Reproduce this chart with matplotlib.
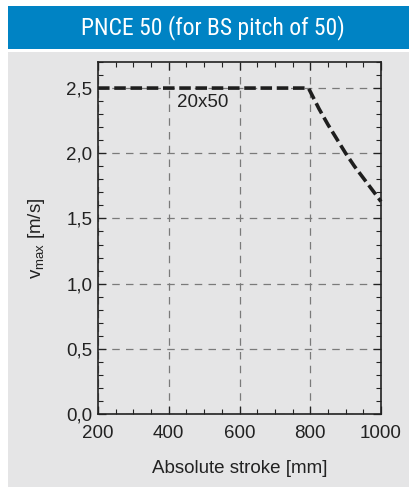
import matplotlib
matplotlib.use("Agg")
import matplotlib.pyplot as plt
from matplotlib.patches import Rectangle
from matplotlib.ticker import MultipleLocator, FuncFormatter

stroke = [200, 795, 825, 850, 875, 900, 925, 950, 975, 1000]
vmax = [2.5, 2.5, 2.34, 2.22, 2.11, 2.00, 1.90, 1.81, 1.72, 1.63]
x_ticks = [200, 400, 600, 800, 1000]
y_ticks = [0.0, 0.5, 1.0, 1.5, 2.0, 2.5]
title = "PNCE 50 (for BS pitch of 50)"
curve_label = "20x50"

plt.rcParams['font.family'] = ['Liberation Sans', 'DejaVu Sans']

W, H = 409, 487
fig = plt.figure(figsize=(W/100, H/100), dpi=100)
fig.patch.set_facecolor('white')
bg = '#e5e5e6'
fig.patches.append(Rectangle((8/W, 0), 1 - 8/W, (H-52)/H, transform=fig.transFigure,
                             facecolor=bg, edgecolor='none', zorder=-5))
fig.patches.append(Rectangle((8/W, (H-49)/H), 1 - 8/W, 43/H, transform=fig.transFigure,
                             facecolor='#0083c4', edgecolor='none', zorder=-5))
fig.text((8+409)/2/W + 4/W, (H-28)/H, title, color='white', ha='center', va='center',
         fontsize=17, family=['Roboto Condensed', 'Roboto', 'DejaVu Sans'])

ax = fig.add_axes([98/W, (H-414)/H, (381-98)/W, (414-62)/H])
ax.set_zorder(2)
ax.set_facecolor('none')
ax.set_xlim(200, 1000)
ax.set_ylim(0, 2.7)
ax.set_xticks(x_ticks)
ax.set_yticks(y_ticks)
ax.xaxis.set_minor_locator(MultipleLocator(50))
ax.yaxis.set_minor_locator(MultipleLocator(0.1))
ax.yaxis.set_major_formatter(FuncFormatter(lambda v, p: f"{v:.1f}".replace('.', ',')))
ax.tick_params(which='both', direction='in', top=True, right=True, color='#222222',
               labelsize=13.5, labelcolor='#222222')
ax.tick_params(which='major', length=6, width=0.9)
ax.tick_params(which='minor', length=3.5, width=0.8)
ax.tick_params(axis='x', pad=8)
ax.tick_params(axis='y', pad=4)
for s in ax.spines.values():
    s.set_color('#222222')
    s.set_linewidth(1.2)
ax.grid(True, which='major', color='#7a7a7a', linestyle=(0, (6, 5)), linewidth=0.9)

ax.plot(stroke, vmax, color='#1e1e1e', linewidth=2.6, linestyle=(0, (3.2, 1.3)),
        clip_on=False, zorder=5)
ax.text(497, 2.39, curve_label, ha='center', va='center', fontsize=13.5, color='#222222')

ax.set_xlabel("Absolute stroke [mm]", fontsize=13.5, color='#222222', labelpad=13)
ax.set_ylabel(r"v$_\mathregular{max}$ [m/s]", fontsize=13.5, color='#222222', labelpad=14)

fig.savefig("out.png", dpi=100, facecolor=fig.get_facecolor())
